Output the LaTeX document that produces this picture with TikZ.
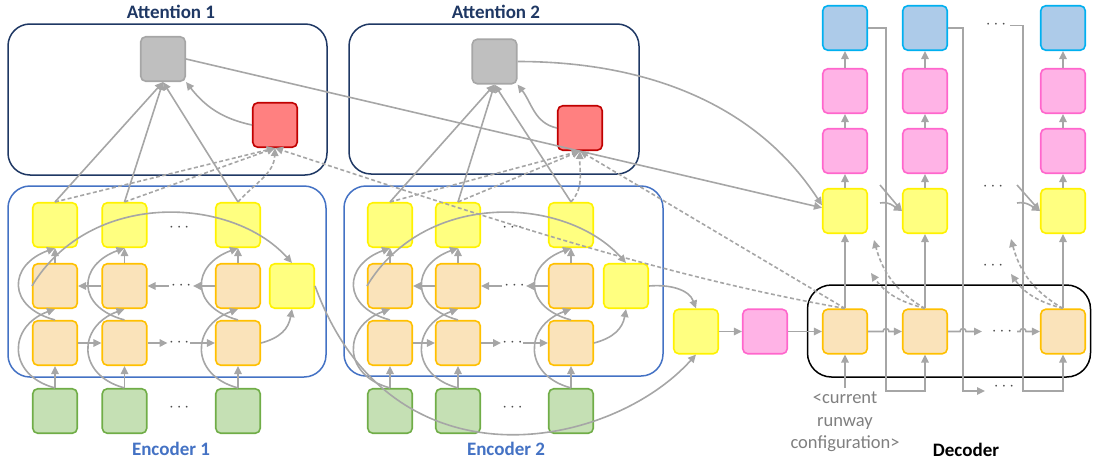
\documentclass[tikz,border=0pt]{standalone}
\usepackage{fontspec}
\setmainfont{Carlito}
\usetikzlibrary{arrows.meta,calc}

\definecolor{edge}{HTML}{A6A6A6}
\definecolor{yelF}{HTML}{FFFF80}
\definecolor{yelD}{HTML}{FFF200}
\definecolor{oraF}{HTML}{FAE3BA}
\definecolor{oraD}{HTML}{FFC000}
\definecolor{grnF}{HTML}{C5E0B4}
\definecolor{grnD}{HTML}{70AD47}
\definecolor{pnkF}{HTML}{FFB3E6}
\definecolor{pnkD}{HTML}{FF66CC}
\definecolor{bluF}{HTML}{ADCBE9}
\definecolor{bluD}{HTML}{00B0F0}
\definecolor{gryF}{HTML}{BFBFBF}
\definecolor{gryD}{HTML}{A6A6A6}
\definecolor{redF}{HTML}{FF8080}
\definecolor{redD}{HTML}{C00000}
\definecolor{navy}{HTML}{1F3864}
\definecolor{encblue}{HTML}{4472C4}
\definecolor{txtgray}{HTML}{7F7F7F}

\tikzset{
  cell/.style={draw, line width=1.6pt, rounded corners=5pt, minimum width=44.5pt,
    minimum height=44.5pt, inner sep=0pt},
  ycell/.style={cell, fill=yelF, draw=yelD},
  ocell/.style={cell, fill=oraF, draw=oraD},
  gcell/.style={cell, fill=grnF, draw=grnD},
  pcell/.style={cell, fill=pnkF, draw=pnkD},
  bcell/.style={cell, fill=bluF, draw=bluD},
  gycell/.style={cell, fill=gryF, draw=gryD},
  rcell/.style={cell, fill=redF, draw=redD},
  arr/.style={draw=edge, line width=1.6pt, -{Triangle[length=8pt,width=7.5pt]}},
  dsh/.style={arr, dash pattern=on 4pt off 2.5pt},
  frame/.style={draw, line width=1.5pt, rounded corners=22pt, inner sep=0pt},
  title/.style={font=\fontsize{19}{19}\selectfont\bfseries, inner sep=0pt},
  dotsn/.style={font=\fontsize{16}{16}\selectfont, text=black!70, inner sep=0pt},
  curtext/.style={font=\fontsize{18.5}{22}\selectfont, text=txtgray, inner sep=0pt, anchor=base},
}

% cells of one bidirectional encoder: prefix, three column x values, x of the final-state cell
\newcommand\encnodes[5]{%
  \foreach \c/\xx in {1/#2,2/#3,3/#4}{%
    \node[ycell] (#1y\c) at (\xx,-225) {};
    \node[ocell] (#1b\c) at (\xx,-286) {};
    \node[ocell] (#1f\c) at (\xx,-343) {};
    \node[gcell] (#1g\c) at (\xx,-411) {};
  }%
  \node[ycell] (#1e) at (#5,-286) {};
}

% connectors of one encoder: prefix, index of its attention block
\newcommand\encedges[2]{%
  \foreach \c in {1,2,3}{%
    \draw[arr] (#1g\c.north) -- (#1f\c.south);
    \draw[arr] (#1b\c.north) -- (#1y\c.south);
    \draw[arr] (#1g\c.north) .. controls +(165:50) and +(200:50) .. (#1b\c.south);
    \draw[arr] (#1f\c.north) .. controls +(165:50) and +(200:50) .. (#1y\c.south);
    \draw[arr] (#1y\c.north) -- (att#2.south);
  }%
  % forward row
  \draw[arr] (#1f1.east) -- (#1f2.west);
  \draw[arr] (#1f2.east) -- ++(20,0);
  \node[dotsn] (#1fd) at ($(#1f2.east)!0.5!(#1f3.west)+(-2,0)$) {$\cdots$};
  \draw[arr] ($(#1f3.west)+(-25,0)$) -- (#1f3.west);
  % backward row
  \draw[arr] (#1b2.west) -- (#1b1.east);
  \draw[arr] (#1b3.west) -- ++(-22,0);
  \node[dotsn] (#1bd) at ($(#1b2.east)!0.5!(#1b3.west)$) {$\cdots$};
  \draw[arr] ($(#1b2.east)+(21,0)$) -- (#1b2.east);
  \node[dotsn] (#1yd) at ($(#1y2)!0.5!(#1y3)+(-2,-3)$) {$\cdots$};
  \node[dotsn] (#1gd) at ($(#1g2)!0.5!(#1g3)+(-2,3)$) {$\cdots$};
  % final states
  \draw[arr] (#1b1.west) .. controls +(59:113) and +(132:90) .. (#1e.north);
  \draw[arr] (#1f3.east) .. controls +(15:20) and +(-100:20) .. (#1e.south);
  % scores
  \draw[dsh] (#1y1.north) -- (sc#2.south);
  \draw[dsh] (#1y2.north) -- (sc#2.south);
  \draw[dsh] (#1y3.north) to[out=48,in=-92] (sc#2.south);
}

\begin{document}
\begin{tikzpicture}[x=1pt,y=1pt]
\useasboundingbox (0,0) rectangle (1093,-466);

% group frames
\node[frame, draw=navy, minimum width=319pt, minimum height=151pt] (A1) at (167.5,-99.5) {};
\node[frame, draw=navy, minimum width=290pt, minimum height=150pt] (A2) at (494,-99) {};
\node[frame, draw=encblue, minimum width=318pt, minimum height=191pt] (E1) at (167,-281.5) {};
\node[frame, draw=encblue, minimum width=319pt, minimum height=190pt] (E2) at (503.5,-281) {};
\node[frame, draw=black, minimum width=283pt, minimum height=92pt, rounded corners=24pt] (D) at (949,-331) {};

% titles
\node[title, text=navy] (tA1) at (171,-12) {Attention 1};
\node[title, text=navy] (tA2) at (496,-12) {Attention 2};
\node[title, text=encblue] (tE1) at (171,-449) {Encoder 1};
\node[title, text=encblue] (tE2) at (506,-449) {Encoder 2};
\node[title] (tD) at (966,-450) {Decoder};

% attention cells
\node[gycell] (att1) at (163,-59) {};
\node[rcell] (sc1) at (275,-125) {};
\node[gycell] (att2) at (494.5,-61.5) {};
\node[rcell] (sc2) at (580,-128) {};

% encoders
\encnodes{a}{55}{124.5}{238}{292}
\encnodes{b}{390}{458}{571}{626}

% joined state
\node[ycell] (my) at (696,-331.5) {};
\node[pcell] (mp) at (765,-331.5) {};

% decoder columns
\foreach \c/\xx in {1/845,2/925,3/1063}{
  \node[bcell] (db\c) at (\xx,-28) {};
  \node[pcell] (dq\c) at (\xx,-91) {};
  \node[pcell] (dp\c) at (\xx,-151) {};
  \node[ycell] (dy\c) at (\xx,-211) {};
  \node[ocell] (do\c) at (\xx,-331.5) {};
}

% input text
\node[curtext] (cur1) at (845,-403.5) {<current};
\node[curtext] (cur2) at (845,-426) {runway};
\node[curtext] (cur3) at (845,-448) {configuration>};

% ---------- connectors ----------
\encedges{a}{1}
\encedges{b}{2}

\draw[arr] (sc1.west) to[out=168,in=-52] (att1.south east);
\draw[arr] (sc2.west) to[out=168,in=-52] (att2.south east);

% attention outputs into the first decoder step
\draw[arr] (att1.east) -- (dy1.172);
\draw[arr] (att2.east) .. controls +(0:130) and +(123:120) .. (dy1.166);

% encoder final states into the joined state
\draw[arr] (ae.east) .. controls +(-70:220) and +(-132:129) .. (my.south);
\draw[arr] (be.east) to[out=5,in=110] (my.north);
\draw[arr] (my.east) -- (mp.west);
\draw[arr] (mp.east) -- (do1.west);

% decoder column flow
\foreach \c in {1,2,3}{
  \draw[arr] (do\c.north) -- (dy\c.south);
  \draw[arr] (dy\c.north) -- (dp\c.south);
  \draw[arr] (dp\c.north) -- (dq\c.south);
  \draw[arr] (dq\c.north) -- (db\c.south);
}

% feedback of outputs to the next step
\coordinate (v1) at (886,-391);
\coordinate (v2) at (963,-391);
\coordinate (v3) at (1023,-391);
\coordinate (w2) at (985,-391);
\coordinate (u3) at (1010,-25.5);
\draw[arr] (db1.east) -| (v1) -| (do2.south);
\draw[arr] (db2.east) -| (v2) -- (w2);
\draw[arr] (u3) -| (v3) -| (do3.south);
\node[dotsn] (dtop) at (996,-25) {$\cdots$};
\node[dotsn] (dbot) at (1004,-387) {$\cdots$};
\draw[arr] (cur1.base) ++(0,16) -- (do1.south);

% recurrent row with hops over the feedback lines
\draw[arr] (do1.east) -- ($(v1 |- do1.east)+(-3,0)$) arc[start angle=180,end angle=0,radius=3] -- (do2.west);
\draw[arr] (do2.east) -- ($(v2 |- do2.east)+(-3,0)$) arc[start angle=180,end angle=0,radius=3] -- ++(16,0);
\node[dotsn] (drow) at (1002,-331.5) {$\cdots$};
\coordinate (h3) at (1017,-331.5);
\draw[arr] (h3) -- ($(v3 |- do3.west)+(-3,0)$) arc[start angle=180,end angle=0,radius=3] -- (do3.west);

% attention inputs of later steps
\coordinate (s2a) at (880,-185);
\coordinate (s2b) at (880,-203);
\coordinate (s3a) at (1017,-185);
\coordinate (s3b) at (1017,-203);
\draw[arr] (s2a) -- (dy2.west);
\draw[arr] (s2b) to[out=10,in=150] (dy2.west);
\draw[arr] (s3a) -- (dy3.west);
\draw[arr] (s3b) to[out=10,in=150] (dy3.west);
\node[dotsn] (dmid) at (993,-187) {$\cdots$};

% decoder queries to the score cells
\draw[dsh] (do1.north) .. controls +(170:200) and +(-18:200) .. (sc1.south);
\draw[dsh] (do1.north) -- (sc2.south);
\coordinate (t2a) at (874,-240);
\coordinate (t2b) at (871,-273);
\coordinate (t3a) at (1011,-239);
\coordinate (t3b) at (1011,-274);
\draw[dsh] (do2.north) to[out=150,in=-75] (t2a);
\draw[dsh] (do2.north) to[out=165,in=-55] (t2b);
\draw[dsh] (do3.north) to[out=150,in=-75] (t3a);
\draw[dsh] (do3.north) to[out=165,in=-55] (t3b);
\node[dotsn] (dq) at (993,-266) {$\cdots$};

\end{tikzpicture}
\end{document}
